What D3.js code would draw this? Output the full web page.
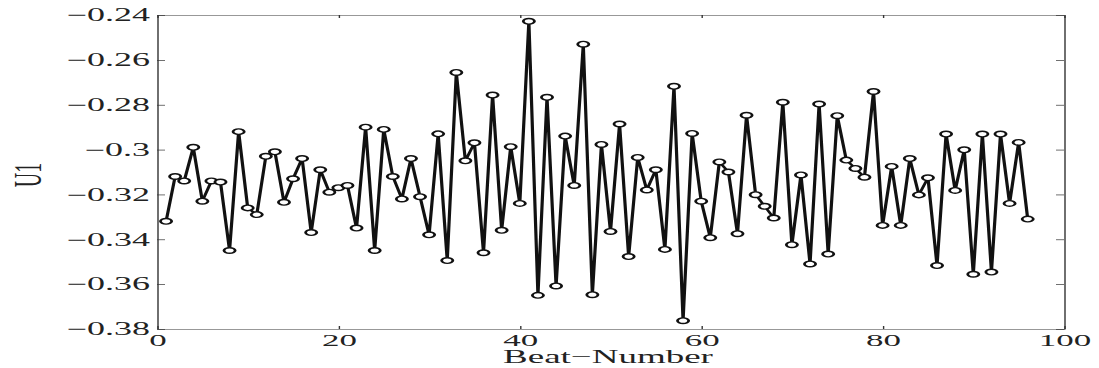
<!DOCTYPE html>
<html>
<head>
<meta charset="utf-8">
<script src="https://cdn.jsdelivr.net/npm/d3@7"></script>
<style>
  html, body { margin: 0; padding: 0; background: #fff; }
  svg text { font-family: "Liberation Serif", "Times New Roman", serif; fill: #222; }
</style>
</head>
<body>
<svg id="chart" width="1099" height="368"></svg>
<script>
// U1 value for each beat (beat number = position + 1)
const u1Values = [
  -0.332, -0.312, -0.314, -0.299, -0.323, -0.314, -0.3145, -0.345, -0.292, -0.326,
  -0.329, -0.303, -0.301, -0.3235, -0.313, -0.304, -0.337, -0.309, -0.319, -0.317,
  -0.316, -0.335, -0.290, -0.345, -0.291, -0.312, -0.322, -0.304, -0.321, -0.338,
  -0.293, -0.3495, -0.2656, -0.305, -0.297, -0.346, -0.2757, -0.336, -0.2987, -0.324,
  -0.2428, -0.365, -0.2767, -0.3608, -0.294, -0.316, -0.253, -0.3647, -0.2977, -0.3365,
  -0.2886, -0.3477, -0.3035, -0.318, -0.309, -0.3445, -0.2718, -0.3763, -0.2928, -0.323,
  -0.3393, -0.3055, -0.310, -0.3375, -0.2847, -0.3201, -0.3253, -0.3305, -0.2789, -0.3424,
  -0.3113, -0.351, -0.2797, -0.3466, -0.2849, -0.3047, -0.3084, -0.3123, -0.2741, -0.3338,
  -0.3075, -0.3338, -0.304, -0.3202, -0.3126, -0.3517, -0.2931, -0.3182, -0.3001, -0.3556,
  -0.2931, -0.3546, -0.2931, -0.324, -0.2968, -0.331
];
const beatNumbers = u1Values.map((v, i) => i + 1);

const xTicks = [0, 20, 40, 60, 80, 100];
const xTickLabels = ["0", "20", "40", "60", "80", "100"];
const yTicks = [-0.38, -0.36, -0.34, -0.32, -0.30, -0.28, -0.26, -0.24];
const yTickLabels = ["\u22120.38", "\u22120.36", "\u22120.34", "\u22120.32", "\u22120.3", "\u22120.28", "\u22120.26", "\u22120.24"];

const xLabel = "Beat\u2212Number";
const yLabel = "U1";

// The figure is drawn in a half-width coordinate system and stretched 2x horizontally
const SX = 2;
const plotLeft = 157 / SX, plotRight = 1064 / SX, plotTop = 15, plotBottom = 329;

const svg = d3.select("#chart");
svg.append("rect").attr("width", 1099).attr("height", 368).attr("fill", "#fff");

const g = svg.append("g").attr("transform", `scale(${SX},1)`);

const x = d3.scaleLinear().domain([0, 100]).range([plotLeft, plotRight]);
const y = d3.scaleLinear().domain([-0.38, -0.24]).range([plotBottom, plotTop]);

const frameColor = "#333";
const frameWidth = 0.7;

function styleAxis(sel) {
  sel.select(".domain").attr("stroke", frameColor).attr("stroke-width", frameWidth);
  sel.selectAll(".tick line").attr("stroke", frameColor).attr("stroke-width", frameWidth);
}

// bottom axis with labels
g.append("g")
  .attr("transform", `translate(0,${plotBottom})`)
  .call(d3.axisBottom(x).tickValues(xTicks).tickSize(-3).tickSizeOuter(0).tickPadding(4.5)
    .tickFormat((d, i) => xTickLabels[i]))
  .call(styleAxis)
  .call(s => s.selectAll("text").attr("font-size", 17.5).attr("fill", "#222"));

// top axis, ticks only
g.append("g")
  .attr("transform", `translate(0,${plotTop})`)
  .call(d3.axisTop(x).tickValues(xTicks).tickSize(-3).tickSizeOuter(0).tickFormat(""))
  .call(styleAxis);

// left axis with labels
g.append("g")
  .attr("transform", `translate(${plotLeft},0)`)
  .call(d3.axisLeft(y).tickValues(yTicks).tickSize(-4).tickSizeOuter(0).tickPadding(3.5)
    .tickFormat((d, i) => yTickLabels[i]))
  .call(styleAxis)
  .call(s => s.selectAll("text").attr("font-size", 18).attr("fill", "#222"));

// right axis, ticks only
g.append("g")
  .attr("transform", `translate(${plotRight},0)`)
  .call(d3.axisRight(y).tickValues(yTicks).tickSize(-4).tickSizeOuter(0).tickFormat(""))
  .call(styleAxis);

// series line
const line = d3.line().x((d, i) => x(beatNumbers[i])).y(d => y(d));
g.append("path")
  .datum(u1Values)
  .attr("d", line)
  .attr("fill", "none")
  .attr("stroke", "#111")
  .attr("stroke-width", 1.6)
  .attr("stroke-linejoin", "miter");

// circle markers
g.append("g")
  .selectAll("circle")
  .data(u1Values)
  .join("circle")
  .attr("cx", (d, i) => x(beatNumbers[i]))
  .attr("cy", d => y(d))
  .attr("r", 2.8)
  .attr("fill", "#fff")
  .attr("stroke", "#111")
  .attr("stroke-width", 1.4);

// axis titles
g.append("text")
  .attr("x", 608 / SX)
  .attr("y", 363.5)
  .attr("text-anchor", "middle")
  .attr("font-size", 18.5)
  .text(xLabel);

g.append("text")
  .attr("transform", `translate(${41 / SX},175) rotate(-90)`)
  .attr("text-anchor", "middle")
  .attr("font-size", 20)
  .text(yLabel);
</script>
</body>
</html>
